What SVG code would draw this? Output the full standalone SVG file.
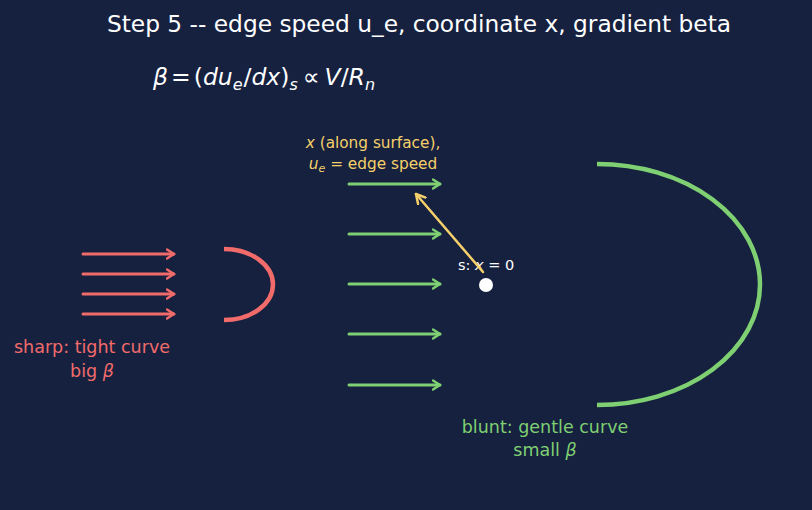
<svg xmlns="http://www.w3.org/2000/svg" width="812" height="510" viewBox="0 0 812 510">
<style>
text{font-family:"DejaVu Sans",sans-serif}
.red{stroke:#f26b6b;stroke-width:3;fill:none;stroke-linecap:round}
.grn{stroke:#7fd072;stroke-width:3;fill:none;stroke-linecap:round}
.arc{stroke-width:4.5;stroke-linecap:butt}
</style>
<defs>
<marker id="ar" markerWidth="10" markerHeight="12" refX="8" refY="6" orient="auto" markerUnits="userSpaceOnUse"><path d="M1,1.5 L8,6 L1,10.5" fill="none" stroke="#f26b6b" stroke-width="2.5" stroke-linecap="round" stroke-linejoin="round"/></marker>
<marker id="ag" markerWidth="10" markerHeight="12" refX="8" refY="6" orient="auto" markerUnits="userSpaceOnUse"><path d="M1,1.5 L8,6 L1,10.5" fill="none" stroke="#7fd072" stroke-width="2.5" stroke-linecap="round" stroke-linejoin="round"/></marker>
<marker id="ay" markerWidth="12" markerHeight="12" refX="10" refY="6" orient="auto" markerUnits="userSpaceOnUse"><path d="M1,1 L10,6 L1,11" fill="none" stroke="#f5d06a" stroke-width="2.5" stroke-linecap="round" stroke-linejoin="round"/></marker>
</defs>
<rect width="812" height="510" fill="#16213f"/>
<text x="419" y="32" font-size="23.3" fill="#ffffff" text-anchor="middle">Step 5 -- edge speed u_e, coordinate x, gradient beta</text>
<text x="153" y="85" font-size="23.5" fill="#ffffff"><tspan font-style="italic">β</tspan><tspan dx="3">=</tspan><tspan dx="3">(</tspan><tspan font-style="italic">du</tspan><tspan font-style="italic" font-size="16" dy="5">e</tspan><tspan dy="-5" dx="1">/</tspan><tspan font-style="italic">dx</tspan>)<tspan font-style="italic" font-size="16" dy="5">s</tspan><tspan dy="-5" dx="5">∝</tspan><tspan dx="5" font-style="italic">V</tspan>/<tspan font-style="italic">R</tspan><tspan font-style="italic" font-size="16" dy="5">n</tspan></text>
<g id="sharp">
<path class="red arc" d="M224,249 A49,35.5 0 0 1 224,320"/>
<text x="92" y="353" font-size="17.5" fill="#f26b6b" text-anchor="middle">sharp: tight curve</text>
<text x="92" y="377" font-size="17.5" fill="#f26b6b" text-anchor="middle">big <tspan font-style="italic">β</tspan></text>
</g>
<g id="blunt">
<path class="grn arc" d="M597,164 A163,120.5 0 0 1 597,405"/>
<text x="545" y="433" font-size="17.5" fill="#7fd072" text-anchor="middle">blunt: gentle curve</text>
<text x="545" y="456" font-size="17.5" fill="#7fd072" text-anchor="middle">small <tspan font-style="italic">β</tspan></text>
</g>
<g id="stagnation">
<circle cx="486" cy="285" r="7" fill="#ffffff"/>
<text x="486" y="270" font-size="14.5" fill="#ffffff" text-anchor="middle">s: <tspan font-style="italic">x</tspan> = 0</text>
</g>
<g id="label-x">
<text x="373" y="148" font-size="15.3" fill="#f5d06a" text-anchor="middle"><tspan font-style="italic">x</tspan> (along surface),</text>
<text x="373" y="169" font-size="15.3" fill="#f5d06a" text-anchor="middle"><tspan font-style="italic">u</tspan><tspan font-style="italic" font-size="11" dy="3">e</tspan><tspan dy="-3"> = edge speed</tspan></text>
</g>
<g id="connectors">
<line class="red" x1="83" y1="254" x2="174" y2="254" marker-end="url(#ar)"/>
<line class="red" x1="83" y1="274" x2="174" y2="274" marker-end="url(#ar)"/>
<line class="red" x1="83" y1="294" x2="174" y2="294" marker-end="url(#ar)"/>
<line class="red" x1="83" y1="314" x2="174" y2="314" marker-end="url(#ar)"/>
<line class="grn" x1="349" y1="184" x2="440" y2="184" marker-end="url(#ag)"/>
<line class="grn" x1="349" y1="234" x2="440" y2="234" marker-end="url(#ag)"/>
<line class="grn" x1="349" y1="284" x2="440" y2="284" marker-end="url(#ag)"/>
<line class="grn" x1="349" y1="334" x2="440" y2="334" marker-end="url(#ag)"/>
<line class="grn" x1="349" y1="385" x2="440" y2="385" marker-end="url(#ag)"/>
<line x1="483" y1="272" x2="416" y2="194" stroke="#f5d06a" stroke-width="2.5" stroke-linecap="round" marker-end="url(#ay)"/>
</g>
</svg>
